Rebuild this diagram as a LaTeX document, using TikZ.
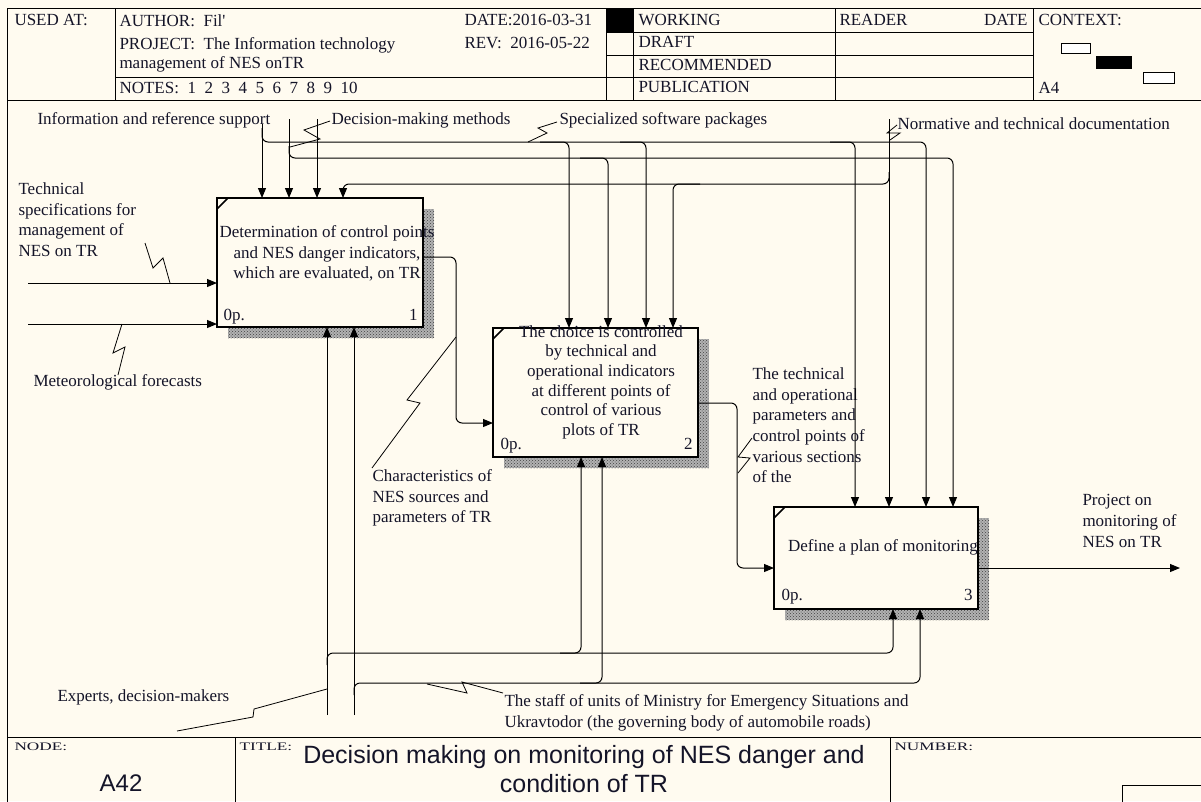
\documentclass[tikz,border=0pt]{standalone}
\usepackage{fontspec}
\setmainfont{Liberation Serif}
\newfontfamily\arialfont{Liberation Sans}
\newfontfamily\rawserif[Ligatures=TeXOff]{Liberation Serif}
\newfontfamily\widefont[FakeStretch=1.5]{Liberation Serif}
\usetikzlibrary{arrows.meta,calc,patterns,shadows}
\definecolor{paper}{HTML}{FFFBF0}
\definecolor{ink}{HTML}{141428}

\begin{document}
\begin{tikzpicture}[x=1pt,y=-1pt,line width=1pt,
  every node/.style={inner sep=0pt,text=ink,font=\fontsize{17}{20.7}\selectfont},
  lbl/.style={anchor=north west,align=left},
  ctr/.style={anchor=north,align=center},
  sml/.style={anchor=north west,font=\widefont\fontsize{11.5}{14}\selectfont},
  funcbox/.style={draw,line width=2pt,outer sep=0pt,fill=paper,
    general shadow={shadow xshift=11pt,shadow yshift=-11pt,fill=gray!60},
    general shadow={shadow xshift=11pt,shadow yshift=-11pt,pattern=crosshatch dots,pattern color=black!75}},
  arr/.style={-{Triangle[length=10pt,width=8pt]}},
  rc/.style={rounded corners=6pt},
  zz/.style={line width=0.8pt}]
\useasboundingbox(0,0)rectangle(1201,801);
\fill[paper](0,0)rectangle(1201,801);
\draw(7,810)--(7,8)--(1210,8)(7,100)--(1210,100)(7,737)--(1210,737);
\draw(115,8)--(115,100)(606,8)--(606,100)(633,8)--(633,100)(835,8)--(835,100)(1033,8)--(1033,100);
\draw(606,32)--(1033,32)(606,55)--(1033,55)(115,77)--(1033,77);
\fill(606,8)rectangle(633,32);
\draw[fill=white](1061,43)rectangle(1090,53)(1143,72)rectangle(1174,83);
\fill(1096,56)rectangle(1132,69);
\draw(235,737)--(235,810)(890,737)--(890,810)(1122,785)rectangle(1215,815);
\node[lbl](usedat)at(14,14){USED AT:};
\node[lbl](author)at(119,14){AUTHOR:\ \ Fil{\rawserif'}};
\node[lbl](project)at(119,37){PROJECT:\ \ The Information technology};
\node[lbl](projb)at(119,56){management of NES onTR};
\node[lbl](notes)at(119,82){NOTES:~~1~~2~~3~~4~~5~~6~~7~~8~~9~~10};
\node[lbl](date)at(464,14){DATE:2016-03-31};
\node[lbl](rev)at(464,37){REV:\ \ 2016-05-22};
\node[lbl](work)at(638,14){WORKING};
\node[lbl](draft)at(638,36){DRAFT};
\node[lbl](recom)at(638,59){RECOMMENDED};
\node[lbl](publ)at(638,81){PUBLICATION};
\node[lbl](reader)at(839,14){READER};
\node[anchor=north east](rdate)at(1028,14){DATE};
\node[lbl](context)at(1038,14){CONTEXT:};
\node[lbl](afour)at(1038,82){A4};
\node[sml](nodelbl)at(14,742){NODE:};
\node[font=\arialfont\fontsize{24}{29}\selectfont](nodenum)at(121,783){A42};
\node[sml](titlelbl)at(239,742){TITLE:};
\node[align=center,font=\arialfont\fontsize{25}{29}\selectfont](title)at(584,769){Decision making on monitoring of NES danger and\\condition of TR};
\node[sml](numlbl)at(894,742){NUMBER:};
\node[funcbox,minimum width=206pt,minimum height=129pt](b1)at(320,262.5){};
\node[funcbox,minimum width=205pt,minimum height=129pt](b2)at(595.5,392.5){};
\node[funcbox,minimum width=204pt,minimum height=102pt](b3)at(876,558){};
\foreach \b in {b1,b2,b3}\draw[line width=1.5pt]([yshift=-11pt]\b.north west)--([xshift=11pt]\b.north west);
\node[ctr](t1)at(327,225){Determination of control points\\and NES danger indicators,\\which are evaluated, on TR};
\node[ctr,font=\fontsize{17}{19.6}\selectfont](t2)at(601,325){The choice is controlled\\by technical and\\operational indicators\\at different points of\\control of various\\plots of TR};
\node[ctr](t3)at(883,539){Define a plan of monitoring};
\node[lbl](op1)at(223,309){0p.};
\node[anchor=north east](k1)at(418,309){1};
\node[lbl](op2)at(500,438){0p.};
\node[anchor=north east](k2)at(693,438){2};
\node[lbl](op3)at(781,589){0p.};
\node[anchor=north east](k3)at(973,589){3};
\node[lbl](info)at(37,112){Information and reference support};
\node[lbl](dec)at(331,112){Decision-making methods};
\node[lbl](soft)at(559,112){Specialized software packages};
\node[lbl](norm)at(897,117){Normative and technical documentation};
\node[lbl](tech)at(18,182){Technical\\specifications for\\management of\\NES on TR};
\node[lbl](meteo)at(33,374){Meteorological forecasts};
\node[lbl](chars)at(372,469){Characteristics of\\NES sources and\\parameters of TR};
\node[lbl](params)at(752,367){The technical\\and operational\\parameters and\\control points of\\various sections\\of the};
\node[lbl](proj)at(1082,494){Project on\\monitoring of\\NES on TR};
\node[lbl](experts)at(57,689){Experts, decision-makers};
\node[lbl](staff)at(504,694){The staff of units of Ministry for Emergency Situations and\\Ukravtodor (the governing body of automobile roads)};
\draw[arr](262,124)--(262,0|-b1.north);
\draw[arr](289,119)--(289,0|-b1.north);
\draw[arr](317,119)--(317,0|-b1.north);
\draw[arr,rc](262,128)|-(926,142)--(926,0|-b3.north);
\draw[arr,rc](540,142)-|(569,0|-b2.north);
\draw[arr,rc](620,142)-|(646,0|-b2.north);
\draw[arr,rc](830,142)-|(855,0|-b3.north);
\draw[arr,rc](289,146)|-(953,158)--(953,0|-b3.north);
\draw[arr,rc](580,158)-|(608,0|-b2.north);
\draw[arr](889,119)--(889,0|-b3.north);
\draw[arr,rc](889,172)|-(343,184)--(343,0|-b1.north);
\draw[arr,rc](700,184)-|(673,0|-b2.north);
\draw[arr](28,283)--(b1.west|-0,283);
\draw[arr](28,324)--(b1.west|-0,324);
\draw[arr,rc](b1.east|-0,257)-|(456,423)--(b2.west|-0,423);
\draw[arr,rc](b2.east|-0,403)-|(737,568)--(b3.west|-0,568);
\draw[arr](b3.east|-0,568)--(1180,568);
\draw[arr](327,715)--(327,0|-b1.south);
\draw[arr](354,715)--(354,0|-b1.south);
\draw[arr,rc](327,665)|-(893,653)--(893,0|-b3.south);
\draw[arr,rc](560,653)-|(581,0|-b2.south);
\draw[arr,rc](354,695)|-(920,683)--(920,0|-b3.south);
\draw[arr,rc](580,683)-|(602,0|-b2.south);
\draw[zz](145,243)--(153,268)--(163,258)--(170,283);
\draw[zz](122,324)--(113,353)--(125,347)--(118,375);
\draw[zz](330,121)--(304,130)--(320,139)--(290,147);
\draw[zz](557,122)--(538,128)--(547,133)--(528,142);
\draw[zz](897,125)--(887,133)--(900,133)--(890,140);
\draw[zz](456,337)--(407,400)--(420,403)--(372,468);
\draw[zz](752,438)--(738,457)--(750,458)--(738,473);
\draw[zz](177,731)--(253,717)--(254,709)--(327,689);
\draw[zz](503,693)--(462,682)--(467,693)--(427,684);
\end{tikzpicture}
\end{document}
